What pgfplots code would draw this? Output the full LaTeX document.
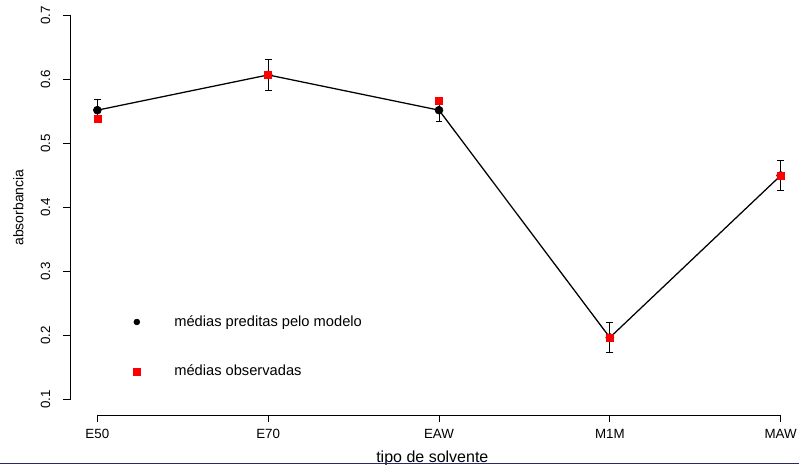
\documentclass[border=0pt]{standalone}
\usepackage{pgfplots}
\pgfplotsset{compat=1.18}
\usepackage{fontspec}
\setmainfont{Liberation Sans}
\definecolor{navyline}{RGB}{40,40,110}
\definecolor{rred}{RGB}{255,0,0}

\pgfplotstableread{
x y e
0 0.552 0.0175
1 0.607 0.0237
2 0.552 0.0175
3 0.197 0.0237
4 0.450 0.0237
}\predicted

\pgfplotstableread{
x y
0 0.538
1 0.607
2 0.567
3 0.197
4 0.450
}\observed

\begin{document}
\begin{tikzpicture}
\begin{axis}[
  name=ax,
  at={(0,0)}, anchor=south west,
  scale only axis,
  width=553.4pt, height=311.25pt,
  xmin=-0.16, xmax=4.16, ymin=0.076, ymax=0.724,
  clip=false,
  axis line style={draw=none},
  xtick={0,1,2,3,4}, xticklabels={E50,E70,EAW,M1M,MAW},
  ytick={0.1,0.2,0.3,0.4,0.5,0.6,0.7},
  yticklabels={0.1,0.2,0.3,0.4,0.5,0.6,0.7},
  tick align=outside,
  xtick pos=bottom, ytick pos=left,
  major tick length=5.25pt,
  tick style={black, line width=0.6pt},
  ticklabel style={font=\fontsize{10}{12}\selectfont},
  xticklabel style={anchor=base},
  yticklabel style={rotate=90, anchor=base},
  xticklabel shift=12pt,
  yticklabel shift=9.75pt,
  xlabel={tipo de solvente},
  ylabel={absorbancia},
  every axis x label/.style={at={(rel axis cs:0.5,0)}, anchor=base, yshift=-35.5pt, xshift=-5pt, font=\fontsize{12}{14}\selectfont},
  every axis y label/.style={at={(rel axis cs:0,0.5)}, rotate=90, anchor=base, yshift=35pt, font=\fontsize{10.5}{12}\selectfont},
  legend style={at={(axis cs:0.211,0.1827)}, anchor=west, draw=none, fill=none,
    inner sep=0pt, outer sep=0pt, row sep=23.5pt,
    font=\fontsize{11}{13}\selectfont,
    /tikz/every odd column/.append style={column sep=23.5pt}},
  legend cell align=left,
]
\addplot[forget plot, black, line width=0.95pt, mark=*, mark size=3pt, mark options={fill=black, line width=0.4pt},
  error bars/.cd, y dir=both, y explicit,
  error bar style={line width=0.6pt, black},
  error mark options={rotate=90, mark size=2.6pt, line width=0.6pt, black}]
  table[x=x, y=y, y error=e] {\predicted};
\addlegendimage{only marks, mark=*, black, mark size=2.2pt}
\addlegendentry{médias preditas pelo modelo}
\addplot[only marks, mark=square*, rred, mark size=2.6pt, mark options={draw=none, fill=rred}]
  table[x=x, y=y] {\observed};
\addlegendentry{médias observadas}
\draw[black, line width=0.6pt] (axis cs:0,0.076) -- (axis cs:4,0.076);
\draw[black, line width=0.6pt] (axis cs:-0.16,0.1) -- (axis cs:-0.16,0.7);
\end{axis}
\draw[navyline, line width=1.1pt] ([xshift=-52.5pt,yshift=-36.2pt]ax.south west) -- ([yshift=-36.2pt]ax.south east);
\pgfresetboundingbox
\path[use as bounding box] ([xshift=-52.5pt,yshift=-36.75pt]ax.south west) rectangle ([xshift=-6.75pt]ax.north east);
\end{tikzpicture}
\end{document}
